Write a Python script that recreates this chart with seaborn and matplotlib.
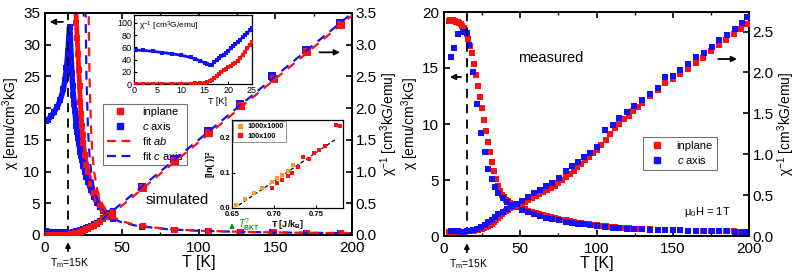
import numpy as np
import pandas as pd
import seaborn as sns
import matplotlib.pyplot as plt
from matplotlib.lines import Line2D

sns.set_style("ticks", {'axes.edgecolor': 'black', 'xtick.color': 'black', 'ytick.color': 'black',
                        'text.color': 'black', 'axes.labelcolor': 'black'})
plt.rcParams['font.family'] = ['Liberation Sans', 'DejaVu Sans']
plt.rcParams['mathtext.fontset'] = 'custom'
plt.rcParams['mathtext.rm'] = 'Liberation Sans'
plt.rcParams['mathtext.it'] = 'Liberation Sans:italic'
plt.rcParams['mathtext.bf'] = 'Liberation Sans:bold'
plt.rcParams['xtick.direction'] = 'in'
plt.rcParams['ytick.direction'] = 'in'

RED = '#ff1010'
BLUE = '#1010ff'
ORANGE = '#ff9a2a'
GREEN = '#16901c'

# ---- simulated chi (emu/cm3kG), chi^-1 = 1/chi ----
T_sim = [0.5, 2, 4, 6, 8, 10, 12, 13, 14, 15, 15.5, 16, 16.5, 17, 17.5, 18, 18.5, 19, 19.5, 20,
         20.5, 21, 21.5, 22, 22.5, 23, 23.5, 24, 24.5, 25, 26, 27, 28, 30, 32, 34, 36, 38, 40, 42, 44]
chi_sim_c = [18.0, 18.2, 18.7, 19.4, 20.2, 21.3, 23.0, 24.4, 26.3, 29.0, 31.0, 32.8, 31.5, 28.0, 25.5,
             23.5, 22.0, 20.7, 19.5, 18.3, 17.2, 16.2, 15.3, 14.5, 13.8, 13.1, 12.5, 11.9, 11.4, 10.9,
             10.0, 9.2, 8.4, 7.1, 6.0, 5.1, 4.4, 3.8, 3.3, 2.9, 2.6]
chi_sim_ab = [2000, 2000, 1950, 1900, 1800, 1650, 1400, 1150, 850, 500, 330, 220, 150, 105, 80,
              63, 52, 45, 40, 36, 33.5, 31, 28.5, 26, 23.5, 21, 19, 17.2, 15.7, 14.5,
              12.6, 11.1, 9.9, 8.1, 6.7, 5.6, 4.7, 4.0, 3.5, 3.1, 2.8]
T_sim_hi = [64, 85, 107, 128, 149, 171, 193]
chi_hi_ab = [1.35, 0.855, 0.62, 0.493, 0.407, 0.346, 0.302]
chi_hi_c = [1.33, 0.84, 0.61, 0.485, 0.40, 0.342, 0.299]

# Curie-Weiss fit curves
T_fit_ab = [28.4, 29, 30, 31, 32, 34, 37, 40, 45, 50, 60, 80, 100, 130, 160, 200]
chi_fit_ab = [35.7, 25, 16.7, 12.5, 10, 7.14, 5.0, 3.85, 2.78, 2.17, 1.52, 0.94, 0.685, 0.485, 0.376, 0.289]
T_fit_c = [26.4, 27, 28, 29, 30, 32, 34, 37, 40, 45, 50, 60, 80, 100, 130, 160, 200]
chi_fit_c = [35.7, 25, 16.7, 12.5, 10, 7.14, 5.56, 4.17, 3.33, 2.5, 2.0, 1.43, 0.91, 0.667, 0.476, 0.370, 0.286]

# ---- BKT inset ----
x_1000 = [0.655, 0.666, 0.676, 0.686, 0.698, 0.703, 0.710, 0.716, 0.722]
y_1000 = [0.008, 0.025, 0.042, 0.058, 0.075, 0.084, 0.095, 0.105, 0.122]
x_100 = [0.698, 0.704, 0.710, 0.716, 0.721, 0.729, 0.735, 0.741, 0.748, 0.754, 0.760, 0.774, 0.779]
y_100 = [0.058, 0.070, 0.080, 0.090, 0.100, 0.117, 0.145, 0.140, 0.155, 0.165, 0.175, 0.236, 0.233]
x_bkt_fit = [0.658, 0.775]
y_bkt_fit = [0.008, 0.198]

# ---- measured ----
T_meas_ab = [3, 4, 5, 6, 7, 8, 9, 10, 11, 12, 13, 14, 15, 16, 17.3, 18.6, 19.9, 21.2, 22.5, 23.8,
             25.1, 26.4, 27.7, 29, 30.3, 31.6, 32.9, 34.2, 35.5, 36.8, 38.1, 39.4, 40.7, 42, 43.5, 45, 47, 49, 51, 53,
             55, 57.5, 60, 62.5, 65, 67.5, 70, 72.5, 75, 77.5, 80, 82.5, 85, 87.5, 90, 92.5, 95, 97.5, 100, 103,
             106, 109, 112, 115, 118, 121, 124, 127, 130, 135, 140, 145, 150, 155, 160, 165, 170, 175, 180, 185,
             190, 195, 199]
chi_meas_ab = [19.2, 19.25, 19.25, 19.25, 19.2, 19.15, 19.1, 19.0, 18.9, 18.75, 18.55, 18.3, 18.0, 17.6, 17.0,
               16.3, 15.4, 14.4, 13.4, 12.4, 11.4, 10.4, 9.4, 8.4, 7.5, 6.6, 5.8, 5.1, 4.5, 4.0,
               3.7, 3.45, 3.25, 3.1, 2.95, 2.83, 2.7, 2.58, 2.47, 2.37, 2.27, 2.16, 2.05, 1.95, 1.86, 1.78,
               1.70, 1.62, 1.53, 1.46, 1.39, 1.32, 1.25, 1.19, 1.13, 1.08, 1.03, 0.99, 0.95, 0.90,
               0.85, 0.80, 0.76, 0.73, 0.70, 0.68, 0.655, 0.635, 0.615, 0.585, 0.56, 0.535, 0.52, 0.505,
               0.49, 0.472, 0.458, 0.443, 0.428, 0.418, 0.405, 0.395, 0.386]
T_meas_c = [4.4, 6.8, 9.4, 12.2, 14.9, 16.6, 19.2, 21.9, 24.3, 26.9, 29.1, 31.3, 33.4, 35.6, 38.5, 41.1,
            44.4, 47.7, 51, 55, 59, 63, 67, 71, 75.5, 80, 84, 88, 92, 96, 100, 105.5, 110.5, 115, 120,
            124.5, 130, 135, 140, 145, 150, 155, 160, 165.5, 170.5, 175.5, 180.5, 185.5, 190.5, 195.5, 199]
chi_meas_c = [16.0, 16.8, 18.0, 18.2, 18.1, 17.05, 14.6, 11.8, 9.2, 7.5, 6.0, 5.1, 4.35, 3.8, 3.37, 3.07,
              2.77, 2.56, 2.36, 2.1, 1.92, 1.77, 1.64, 1.53, 1.42, 1.25, 1.16, 1.10, 1.04, 0.98, 0.92,
              0.77, 0.735, 0.694, 0.658, 0.629, 0.602, 0.575, 0.552, 0.513, 0.510, 0.493, 0.476, 0.457,
              0.446, 0.433, 0.418, 0.407, 0.394, 0.383, 0.373]

sim = pd.DataFrame({'T': T_sim, 'c': chi_sim_c, 'ab': chi_sim_ab})
sim['c_inv'] = 1 / sim['c']
sim['ab_inv'] = 1 / sim['ab']
hi = pd.DataFrame({'T': T_sim_hi, 'ab': chi_hi_ab, 'c': chi_hi_c})
meas_ab = pd.DataFrame({'T': T_meas_ab, 'chi': chi_meas_ab})
meas_ab['inv'] = 1 / meas_ab['chi']
meas_c = pd.DataFrame({'T': T_meas_c, 'chi': chi_meas_c})
meas_c['inv'] = 1 / meas_c['chi']


def squares(ax, x, y, color, s=16, z=3):
    sns.scatterplot(x=x, y=y, ax=ax, color=color, marker='s', s=s, linewidth=0, zorder=z, legend=False)


def line(ax, x, y, color, lw, ls='-', z=2):
    sns.lineplot(x=x, y=y, ax=ax, color=color, lw=lw, linestyle=ls, estimator=None, sort=False,
                 legend=False, zorder=z)


def style_axes(ax, axr):
    for a in (ax, axr):
        for sp in a.spines.values():
            sp.set_linewidth(1.3)
    ax.set_xlim(0, 200)
    ax.set_xticks([0, 50, 100, 150, 200])
    ax.set_xticks([25, 75, 125, 175], minor=True)
    ax.tick_params(axis='x', which='both', top=True, bottom=True)
    ax.tick_params(which='major', length=4, width=1.2, labelsize=11)
    ax.tick_params(axis='x', which='major', pad=4.5)
    ax.tick_params(which='minor', length=2, width=1)
    axr.tick_params(which='major', length=4, width=1.2, labelsize=11, pad=2.5)
    ax.set_xlabel('T [K]', fontsize=11.5, labelpad=0)


fig = plt.figure(figsize=(7.97, 2.76), dpi=100)

# ================= left: simulated =================
ax1 = fig.add_axes([45 / 797, 41 / 276, 307 / 797, 222 / 276])
ax1r = ax1.twinx()

line(ax1, sim['T'], sim['c'], BLUE, 4)
squares(ax1, sim['T'], sim['c'], BLUE, s=20)
line(ax1, sim['T'], sim['ab'], RED, 3.5)
squares(ax1, sim['T'], sim['ab'], RED, s=20)
squares(ax1, hi['T'] - 0.8, hi['c'], BLUE, s=22)
squares(ax1, hi['T'], hi['ab'], RED, s=22)
line(ax1, T_fit_c, chi_fit_c, BLUE, 1.6, (0, (4, 3)), z=4)
line(ax1, T_fit_ab, chi_fit_ab, RED, 1.6, (3.5, (4, 3)), z=4)

fit_inv_c = [1 / v for v, t in zip(chi_fit_c, T_fit_c) if t >= 37]
fit_inv_ab = [1 / v for v, t in zip(chi_fit_ab, T_fit_ab) if t >= 37]
line(ax1r, sim['T'], sim['c_inv'], BLUE, 4)
squares(ax1r, sim['T'], sim['c_inv'], BLUE, s=20)
line(ax1r, sim['T'], sim['ab_inv'], RED, 3.5)
squares(ax1r, sim['T'], sim['ab_inv'], RED, s=20)
squares(ax1r, hi['T'] - 0.8, 1 / hi['c'], BLUE, s=26)
squares(ax1r, hi['T'], 1 / hi['ab'], RED, s=26)
line(ax1r, [t for t in T_fit_c if t >= 37], fit_inv_c, BLUE, 1.6, (0, (4, 3)), z=4)
line(ax1r, [t for t in T_fit_ab if t >= 37], fit_inv_ab, RED, 1.6, (3.5, (4, 3)), z=4)

ax1.axvline(15, color='k', lw=1.3, ls=(0, (5, 3.5)), zorder=5)
ax1.set_ylim(0, 35)
ax1r.set_ylim(0, 3.5)
ax1.set_yticks(range(0, 36, 5))
ax1r.set_yticks(np.arange(0, 3.51, 0.5))
ax1r.set_yticklabels([f'{v:.1f}' for v in np.arange(0, 3.51, 0.5)])
style_axes(ax1, ax1r)
ax1.set_ylabel('χ [emu/cm$^3$kG]', fontsize=10, labelpad=1)
ax1r.set_ylabel('χ$^{-1}$ [cm$^3$kG/emu]', fontsize=10, labelpad=1.5)

ax1.annotate('', xy=(1.3, 33.6), xytext=(13.5, 33.6),
             arrowprops=dict(arrowstyle='-|>', color='k', lw=1.3, mutation_scale=8))
ax1r.annotate('', xy=(194, 2.88), xytext=(177, 2.88),
              arrowprops=dict(arrowstyle='-|>', color='k', lw=1.3, mutation_scale=8))
tr1 = ax1.get_xaxis_transform()
ax1.annotate('', xy=(15, -0.02), xytext=(15, -0.085), xycoords=tr1, textcoords=tr1,
             arrowprops=dict(arrowstyle='-|>', color='k', lw=1.3, mutation_scale=7), annotation_clip=False)
ax1.text(16, -0.125, 'T$_\\mathrm{m}$=15K', transform=tr1, ha='center', va='center', fontsize=7.5)
ax1.text(86, 5.5, 'simulated', ha='center', va='center', fontsize=10.5)

h1 = [Line2D([], [], color=RED, marker='s', ls='none', ms=4.5),
      Line2D([], [], color=BLUE, marker='s', ls='none', ms=4.5),
      Line2D([], [], color=RED, ls=(0, (4, 2.5)), lw=1.6),
      Line2D([], [], color=BLUE, ls=(0, (4, 2.5)), lw=1.6)]
leg1 = ax1.legend(h1, ['inplane', '$\\it{c}$ axis', 'fit $\\it{ab}$', 'fit $\\it{c}$ axis'],
                  loc='upper left', bbox_to_anchor=(0.19, 0.59), fontsize=8, frameon=True, fancybox=False,
                  edgecolor='0.45', framealpha=1, handlelength=2.4, borderpad=0.3, labelspacing=0.25,
                  handletextpad=0.8, borderaxespad=0)
leg1.get_frame().set_linewidth(0.8)

# inset: chi^-1 at low T
ins1 = fig.add_axes([134 / 797, (276 - 84) / 276, 118 / 797, 69 / 276])
low = sim[sim['T'] <= 25.2]
line(ins1, low['T'], 1000 * low['c_inv'], BLUE, 2)
squares(ins1, low['T'], 1000 * low['c_inv'], BLUE, s=5)
line(ins1, low['T'], 1000 * low['ab_inv'], RED, 2)
squares(ins1, low['T'], 1000 * low['ab_inv'], RED, s=5)
ins1.set_xlim(0, 25)
ins1.set_ylim(0, 113)
ins1.set_xticks(range(0, 26, 5))
ins1.set_yticks(range(0, 101, 20))
ins1.tick_params(labelsize=6.5, length=2.5, width=0.8, pad=1.5)
for sp in ins1.spines.values():
    sp.set_linewidth(0.9)
ins1.set_xlabel('')
ins1.set_ylabel('')
ins1.text(0.04, 0.93, 'χ$^{-1}$ [cm$^3$G/emu]', transform=ins1.transAxes, fontsize=6, va='top')
ins1.text(0.71, -0.25, 'T [K]', transform=ins1.transAxes, fontsize=6.5, ha='center', va='center')

# inset: BKT
ins2 = fig.add_axes([232 / 797, (276 - 208) / 276, 111 / 797, 88 / 276])
line(ins2, x_bkt_fit, y_bkt_fit, 'k', 0.9, (0, (3, 2)), z=2)
squares(ins2, x_1000, y_1000, ORANGE, s=9)
squares(ins2, x_100, y_100, RED, s=9)
ins2.set_xlim(0.65, 0.782)
ins2.set_ylim(0, 0.25)
ins2.set_xticks([0.65, 0.70, 0.75])
ins2.set_xticklabels(['0.65', '0.70', '0.75'], fontweight='bold')
ins2.set_yticks([0.0, 0.1, 0.2])
ins2.set_yticklabels(['0.0', '0.1', '0.2'], fontweight='bold')
ins2.tick_params(labelsize=5.5, length=2.5, width=0.8, pad=1.5)
ins2.tick_params(axis='x', pad=2.5)
for sp in ins2.spines.values():
    sp.set_linewidth(0.9)
ins2.set_xlabel('T [J/k$_\\mathbf{B}$]', fontsize=6.5, fontweight='bold', labelpad=0)
ins2.set_ylabel('[ln( )]$^\\mathbf{2}$', fontsize=6.5, fontweight='bold', labelpad=1)
h2 = [Line2D([], [], color=ORANGE, marker='s', ls='none', ms=3),
      Line2D([], [], color=RED, marker='s', ls='none', ms=3)]
leg2 = ins2.legend(h2, ['1000x1000', '100x100'], loc='upper left', prop={'size': 5.2, 'weight': 'bold'},
                   frameon=True, fancybox=False, edgecolor='0.5', framealpha=1, borderpad=0.3,
                   labelspacing=0.3, handletextpad=0.5, borderaxespad=0.15, handlelength=1.2)
leg2.get_frame().set_linewidth(0.6)
ins2.annotate('', xy=(0.0, -0.14), xytext=(0.0, -0.24), xycoords='axes fraction', textcoords='axes fraction',
              arrowprops=dict(arrowstyle='-|>', color=GREEN, lw=1.2, mutation_scale=6), annotation_clip=False)
ins2.text(0.05, -0.19, '$T^{?}_{\\mathbf{BKT}}$', transform=ins2.transAxes, fontsize=7, color=GREEN,
          fontweight='bold', va='center', ha='left')

# ================= right: measured =================
ax2 = fig.add_axes([444 / 797, 40 / 276, 305 / 797, 224 / 276])
ax2r = ax2.twinx()
squares(ax2, meas_ab['T'], meas_ab['chi'], RED, s=20, z=3)
squares(ax2, meas_c['T'], meas_c['chi'], BLUE, s=20, z=4)
squares(ax2r, meas_ab['T'], meas_ab['inv'], RED, s=20, z=3)
squares(ax2r, meas_c['T'], meas_c['inv'], BLUE, s=20, z=4)
ax2.axvline(15, color='k', lw=1.3, ls=(0, (5, 3.5)), zorder=5)
ax2.set_ylim(0, 20)
ax2r.set_ylim(0, 2.74)
ax2.set_yticks([0, 5, 10, 15, 20])
ax2r.set_yticks(np.arange(0, 2.51, 0.5))
ax2r.set_yticklabels([f'{v:.1f}' for v in np.arange(0, 2.51, 0.5)])
style_axes(ax2, ax2r)
ax2.set_ylabel('χ [emu/cm$^3$kG]', fontsize=10, labelpad=1)
ax2r.set_ylabel('χ$^{-1}$ [cm$^3$kG/emu]', fontsize=10, labelpad=1.5)

ax2.annotate('', xy=(2.0, 14.2), xytext=(13, 14.2),
             arrowprops=dict(arrowstyle='-|>', color='k', lw=1.3, mutation_scale=8))
ax2r.annotate('', xy=(194, 2.165), xytext=(178, 2.165),
              arrowprops=dict(arrowstyle='-|>', color='k', lw=1.3, mutation_scale=8))
tr2 = ax2.get_xaxis_transform()
ax2.annotate('', xy=(15, -0.02), xytext=(15, -0.085), xycoords=tr2, textcoords=tr2,
             arrowprops=dict(arrowstyle='-|>', color='k', lw=1.3, mutation_scale=7), annotation_clip=False)
ax2.text(16, -0.125, 'T$_\\mathrm{m}$=15K', transform=tr2, ha='center', va='center', fontsize=7.5)
ax2.text(70, 15.9, 'measured', ha='center', va='center', fontsize=10.5)
ax2.text(172.5, 2.1, 'μ$_0$H = 1T', ha='center', va='center', fontsize=8)

h3 = [Line2D([], [], color=RED, marker='s', ls='none', ms=4.5),
      Line2D([], [], color=BLUE, marker='s', ls='none', ms=4.5)]
leg3 = ax2.legend(h3, ['inplane', '$\\it{c}$ axis'], loc='upper left', bbox_to_anchor=(0.652, 0.442),
                  fontsize=8, frameon=True, fancybox=False, edgecolor='0.45', framealpha=1,
                  borderpad=0.35, labelspacing=0.3, handletextpad=0.9, borderaxespad=0, handlelength=1.8)
leg3.get_frame().set_linewidth(0.8)

fig.savefig('out.png', dpi=100)
